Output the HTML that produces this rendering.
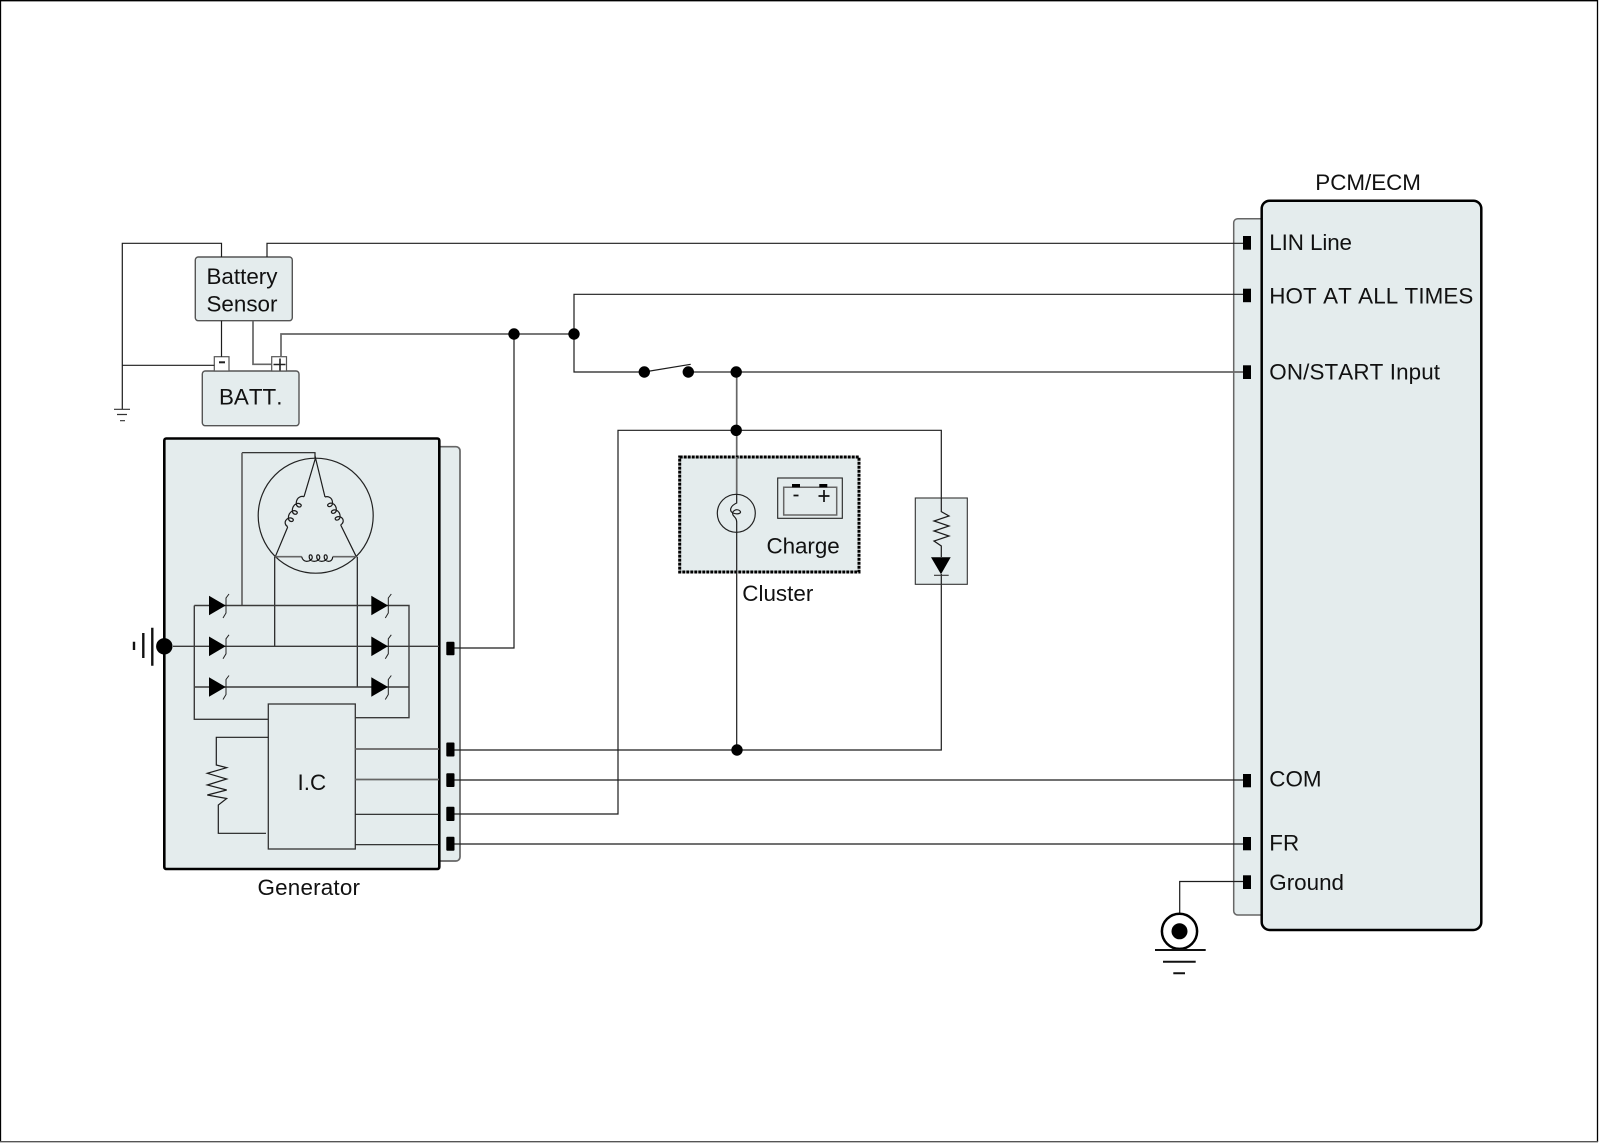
<!DOCTYPE html>
<html><head><meta charset="utf-8"><style>
html,body{margin:0;padding:0;background:#fff}
svg{display:block}
text{font-family:"Liberation Sans",Arial,sans-serif;font-size:22.4px;fill:#111;font-kerning:none}
.w{fill:none;stroke:#1c1c1c;stroke-width:1.2}
.g{fill:none;stroke:#666;stroke-width:1.7}
.f{fill:#e4eced}
.k{fill:#000;stroke:none}
</style></head><body>
<svg width="1600" height="1143" viewBox="0 0 1600 1143" xmlns="http://www.w3.org/2000/svg">
<defs></defs>
<rect width="1600" height="1143" fill="#fff"/>
<path d="M0 0.7H1598M0.5 0V1142M1597.5 0V1142" fill="none" stroke="#000" stroke-width="1.3"/>
<path d="M0 1141.7H1598" stroke="#555" stroke-width="1.4"/>

<!-- tabs -->
<rect class="f" x="1233.7" y="218.7" width="40" height="696.3" rx="4" stroke="#666" stroke-width="1.5"/>
<rect class="f" x="425" y="446.7" width="35" height="414.3" rx="4" stroke="#666" stroke-width="1.7"/>

<!-- main boxes -->
<rect class="f" x="1261.7" y="200.7" width="219.6" height="729.3" rx="8" stroke="#000" stroke-width="2.5"/>
<rect class="f" x="164.3" y="438.5" width="275" height="430.5" rx="2" stroke="#000" stroke-width="2.6"/>
<rect class="f" x="195.3" y="257" width="97" height="63.7" rx="3" stroke="#555" stroke-width="1.4"/>
<rect class="f" x="202.3" y="371" width="96.7" height="54.7" rx="3" stroke="#555" stroke-width="1.4"/>
<rect x="214.3" y="356.7" width="14.7" height="14.3" fill="#fff" stroke="#555" stroke-width="1.2"/>
<rect x="271.7" y="356.7" width="14.8" height="14.3" fill="#fff" stroke="#555" stroke-width="1.2"/>
<path d="M219 362.3h6" stroke="#222" stroke-width="2"/>
<path d="M273.5 364.5h12M280 358.5v12" stroke="#222" stroke-width="1.6"/>

<!-- battery wiring -->
<path class="w" d="M221.5 257V243.3H122.3V409M122.3 365.3H214.3M221.5 320.7V356.7M267 257V243.3H1243"/>
<path class="g" d="M253 320.7V364.3H271.7M281 356.7V334H574"/>
<path d="M114 409.3h16M117 414.5h10M120 420.7h5" stroke="#333" stroke-width="1.2"/>

<!-- central wiring -->
<path class="w" d="M514 334V648H454"/>
<path class="w" d="M1243 294.3H574V372H644"/>
<path class="w" d="M644 372L690.7 364.3"/>
<path class="g" d="M688 372H1243M736.7 372V457"/>
<path class="w" d="M454 814H618V430.3H941.3V498"/>
<path class="w" d="M454 750H941.3V584"/>
<path class="w" d="M454 780H1243M454 844H1243"/>
<path class="w" d="M1243 881.5H1179.7V914"/>

<!-- cluster -->
<rect class="f" x="679.7" y="457" width="179.3" height="115" stroke="#000" stroke-width="3" stroke-dasharray="3 1"/>
<path class="g" d="M736.7 457V494"/>
<circle cx="736.3" cy="513.3" r="19" fill="none" stroke="#222" stroke-width="1.2"/>
<path class="w" d="M736.7 494V503C730 506 729 511 733 513C738 515 742 513 740 511C737 508 731 511 733 515C735 518 737 518 736.7 524V750"/>
<rect x="777.7" y="478" width="64.6" height="40.3" fill="none" stroke="#222" stroke-width="1.1"/>
<path d="M783.7 515V487.3H836.7V515Z" fill="none" stroke="#666" stroke-width="1.5"/>
<rect class="k" x="792" y="484" width="8" height="3.3"/>
<rect class="k" x="819.3" y="484" width="8" height="3.3"/>
<path d="M793.5 495.5h5M818.5 496h11M824 490v12" stroke="#111" stroke-width="1.7"/>
<text x="766.5" y="553.3" textLength="73.2">Charge</text>
<text x="742.3" y="601" textLength="71">Cluster</text>

<!-- resistor/diode box -->
<rect class="f" x="915.3" y="498" width="52" height="86.3" stroke="#333" stroke-width="1.1"/>
<path class="w" d="M941.3 498V511.7L949 516L934 521L949 526L934 531L949 536L934 541L941.3 546V557M941.3 574V584"/>
<path class="k" d="M931 557.3H950.7L941 574.3Z"/>
<path d="M934 575.3H948.7" stroke="#333" stroke-width="1.1"/>

<!-- dots -->
<g fill="#000">
<circle cx="514" cy="334" r="5.7"/><circle cx="574" cy="334" r="5.7"/>
<circle cx="644.3" cy="372" r="5.7"/><circle cx="688.3" cy="372" r="5.7"/>
<circle cx="736.2" cy="372" r="5.7"/><circle cx="736.2" cy="430.3" r="5.7"/>
<circle cx="737" cy="750" r="5.7"/>
</g>

<!-- stator -->
<circle cx="315.7" cy="515.7" r="57.5" fill="none" stroke="#222" stroke-width="1.2"/>
<path class="w" d="M315 458V452.7H242"/>
<path class="g" d="M242 452.7V605.5"/>
<path class="w" d="M275.3 556.7L287.7 527M304 496.7L315.5 458L325 497M340.7 525L356.3 556.7"/>
<path class="w" transform="translate(304 496.7) rotate(118.5) scale(1.1 1)" d="M0 0C.5 3 3 4.7 5 4.7C7.5 4.7 11 3 10.5 0C10 -2.5 7.5 -2.5 7.5 0C7.5 3 10 4.7 12.5 4.7C15 4.7 18.5 3 18 0C17.5 -2.5 15 -2.5 15 0C15 3 17.5 4.7 20 4.7C22.5 4.7 26 3 25.5 0C25 -2.5 22.5 -2.5 22.5 0C22.5 3 25 4.7 27 4.7C29 4.7 31 3 31 0"/>
<path class="w" transform="translate(325 497) rotate(60.7) scale(1.03 -1)" d="M0 0C.5 3 3 4.7 5 4.7C7.5 4.7 11 3 10.5 0C10 -2.5 7.5 -2.5 7.5 0C7.5 3 10 4.7 12.5 4.7C15 4.7 18.5 3 18 0C17.5 -2.5 15 -2.5 15 0C15 3 17.5 4.7 20 4.7C22.5 4.7 26 3 25.5 0C25 -2.5 22.5 -2.5 22.5 0C22.5 3 25 4.7 27 4.7C29 4.7 31 3 31 0"/>
<path class="g" d="M275.3 556.7H301.7M332.7 556.7H356.3"/>
<path class="w" transform="translate(301.7 556.7)" d="M0 0C.5 3 3 4.7 5 4.7C7.5 4.7 11 3 10.5 0C10 -2.5 7.5 -2.5 7.5 0C7.5 3 10 4.7 12.5 4.7C15 4.7 18.5 3 18 0C17.5 -2.5 15 -2.5 15 0C15 3 17.5 4.7 20 4.7C22.5 4.7 26 3 25.5 0C25 -2.5 22.5 -2.5 22.5 0C22.5 3 25 4.7 27 4.7C29 4.7 31 3 31 0"/>
<path class="w" d="M274.7 556.7V646M357.3 556.7V687"/>

<!-- rectifier rails -->
<path d="M194.3 605.5H409V717.7H355.3M194.3 605.5V719.3H268.3M173 646.3H439M194.3 687H409" fill="none" stroke="#3a3a3a" stroke-width="1.4"/>
<g class="k">
<path d="M209 595.7L225.7 605.5L209 615.3Z"/><path d="M209 636.5L225.7 646.3L209 656.1Z"/><path d="M209 677.2L225.7 687L209 696.8Z"/>
<path d="M371.3 595.7L388 605.5L371.3 615.3Z"/><path d="M371.3 636.5L388 646.3L371.3 656.1Z"/><path d="M371.3 677.2L388 687L371.3 696.8Z"/>
</g>
<g fill="none" stroke="#222" stroke-width="1">
<path d="M229 594L226 598V613L223 618"/><path d="M229 634.8L226 638.8V653.8L223 658.8"/><path d="M229 675.5L226 679.5V694.5L223 699.5"/>
<path d="M391.3 594L388.3 598V613L385.3 618"/><path d="M391.3 634.8L388.3 638.8V653.8L385.3 658.8"/><path d="M391.3 675.5L388.3 679.5V694.5L385.3 699.5"/>
</g>

<!-- generator ground -->
<circle cx="164.3" cy="646.3" r="8.2" fill="#000"/>
<path d="M152.3 627.7V665.7M143.3 633V658M134 641.7V650" stroke="#111" stroke-width="2.4"/>

<!-- IC -->
<rect class="f" x="268.3" y="704" width="87" height="145" stroke="#333" stroke-width="1.3"/>
<path class="g" d="M355.3 749H439M355.3 779.5H439"/>
<path class="w" d="M355.3 814.3H439M355.3 844.7H439"/>
<path class="w" d="M268.3 737.3H216.3V765L226.7 767.7L207.3 773.3L226.7 779L207.3 785L226.7 790L207.3 795L226.7 798.5L218.3 805V833.3H266"/>
<text x="297.5" y="790">I.C</text>
<text x="257.5" y="895" textLength="102.5">Generator</text>

<!-- connectors -->
<g class="k">
<rect x="446.3" y="641.7" width="8.2" height="13.5" rx="1"/>
<rect x="446.3" y="742.5" width="8.2" height="14" rx="1"/>
<rect x="446.3" y="773.3" width="8.2" height="13.7" rx="1"/>
<rect x="446.3" y="806.7" width="8.2" height="14.3" rx="1"/>
<rect x="446.3" y="836.7" width="8.2" height="14" rx="1"/>
<rect x="1243" y="236" width="8" height="13.7"/>
<rect x="1243" y="288.7" width="8" height="13.5"/>
<rect x="1243" y="365.3" width="8" height="13.7"/>
<rect x="1243" y="774" width="8" height="13.3"/>
<rect x="1243" y="837" width="8" height="13.3"/>
<rect x="1243" y="875.3" width="8" height="13.7"/>
</g>

<!-- chassis ground -->
<circle cx="1179.5" cy="931.3" r="17.6" fill="#fff" stroke="#000" stroke-width="2.5"/>
<circle cx="1179.5" cy="931.3" r="8" fill="#000"/>
<path d="M1155 950H1205.7M1163 961.7H1195.7M1173.3 973.3H1185" stroke="#111" stroke-width="2"/>

<!-- labels -->
<text x="206.5" y="284">Battery</text>
<text x="206.5" y="311.7">Sensor</text>
<text x="219" y="404.3">BATT.</text>
<text x="1315.3" y="190" textLength="105.6">PCM/ECM</text>
<text x="1269.3" y="250" textLength="82.7">LIN Line</text>
<text x="1269.3" y="303.3" textLength="204">HOT AT ALL TIMES</text>
<text x="1269.3" y="379.3" textLength="170.7">ON/START Input</text>
<text x="1269.3" y="786.7">COM</text>
<text x="1269.3" y="850.7">FR</text>
<text x="1269.3" y="890">Ground</text>
</svg>
</body></html>
